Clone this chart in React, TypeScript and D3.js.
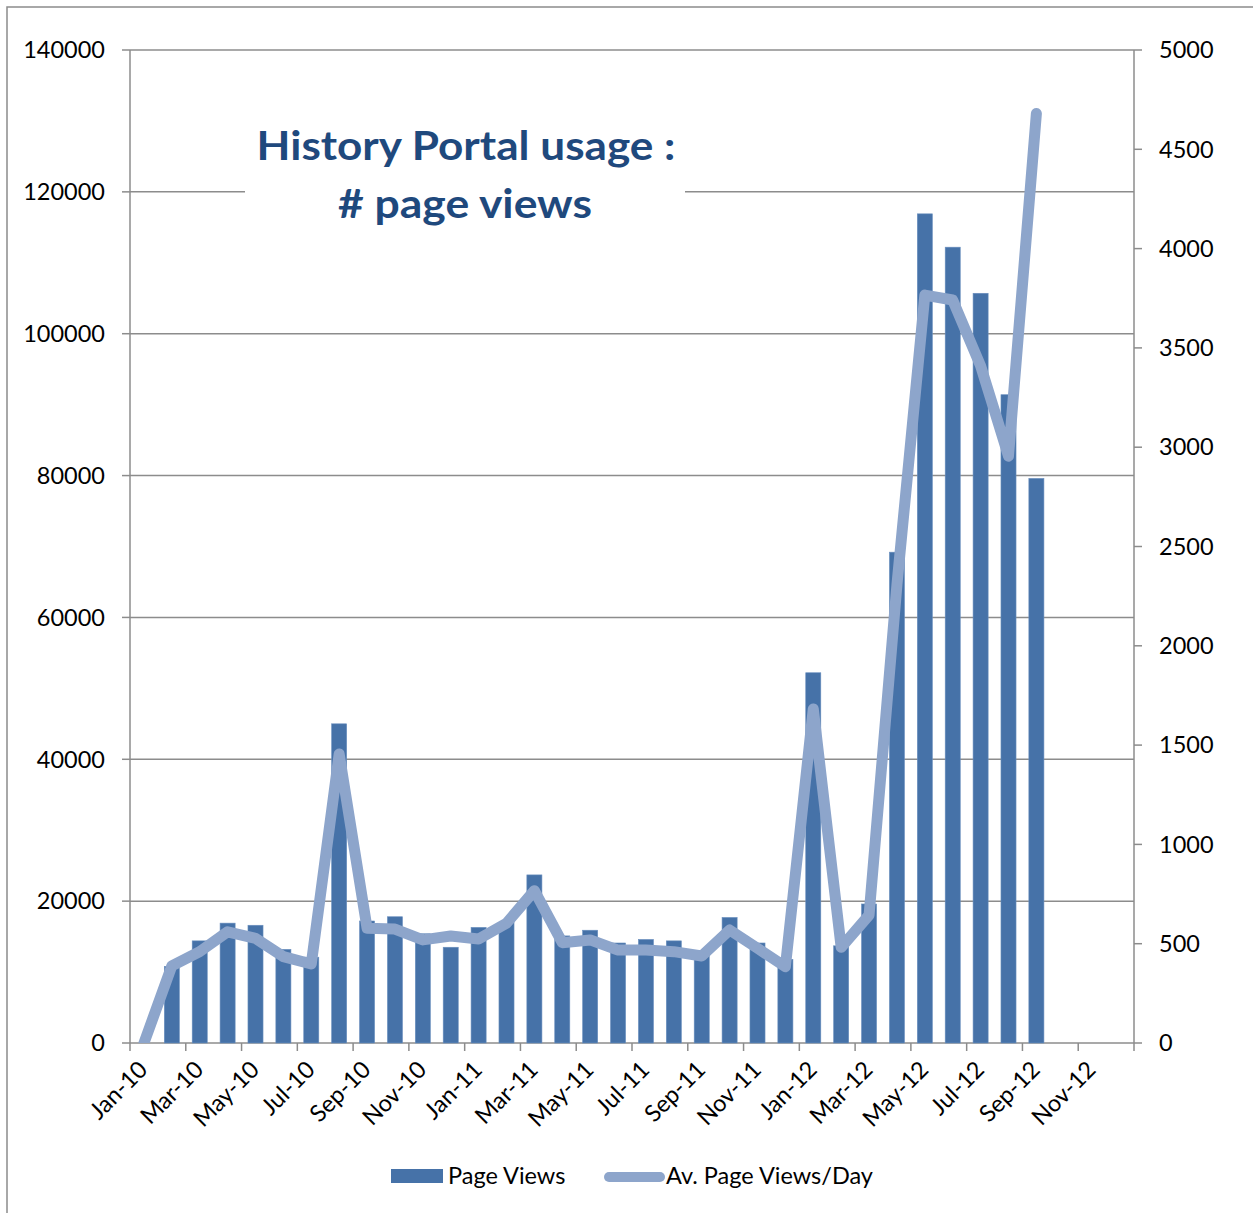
import React from 'react';
import * as d3 from 'd3';

const months = [
  'Jan-10','Feb-10','Mar-10','Apr-10','May-10','Jun-10','Jul-10','Aug-10','Sep-10','Oct-10','Nov-10','Dec-10',
  'Jan-11','Feb-11','Mar-11','Apr-11','May-11','Jun-11','Jul-11','Aug-11','Sep-11','Oct-11','Nov-11','Dec-11',
  'Jan-12','Feb-12','Mar-12','Apr-12','May-12','Jun-12','Jul-12','Aug-12','Sep-12','Oct-12','Nov-12','Dec-12',
];
const pageViews: (number | null)[] = [
  0, 10800, 14400, 16900, 16600, 13200, 12100, 45000, 17200, 17800, 15400, 13500,
  16300, 17000, 23700, 15100, 15900, 14100, 14600, 14400, 12800, 17700, 14100, 11800,
  52200, 13700, 19600, 69200, 116900, 112200, 105700, 91400, 79600, null, null, null,
];
const avgPerDay: (number | null)[] = [
  0, 388, 460, 560, 527, 435, 398, 1455, 578, 574, 519, 539,
  524, 603, 767, 505, 519, 468, 468, 460, 438, 569, 477, 384,
  1682, 482, 644, 2307, 3766, 3741, 3410, 2955, 4680, null, null, null,
];
const leftTicks = [0, 20000, 40000, 60000, 80000, 100000, 120000, 140000];
const rightTicks = [0, 500, 1000, 1500, 2000, 2500, 3000, 3500, 4000, 4500, 5000];
const titleLines = ['History Portal usage :', '# page views'];
const legendLabels = ['Page Views', 'Av. Page Views/Day'];

const BAR = '#4672A8';
const LINE = '#8DA5CB';
const GRID = '#8c8c8c';
const FONT = 'Lato, "Open Sans", sans-serif';
const FS = 23.5;

export default function App() {
  const L = 130, R = 1134, T = 50, B = 1043;
  const x = d3.scaleBand<string>().domain(months).range([L, R]).paddingInner(0.46).paddingOuter(0.23);
  const yL = d3.scaleLinear().domain([0, 140000]).range([B, T]);
  const yR = d3.scaleLinear().domain([0, 5000]).range([B, T]);
  const step = x.step();
  const bandStart = (m: string) => (x(m) as number) - (step - x.bandwidth()) / 2;
  const cx = (m: string) => (x(m) as number) + x.bandwidth() / 2;

  const lineGen = d3.line<number | null>()
    .defined((d) => d !== null)
    .x((_, i) => cx(months[i]))
    .y((d) => yR(d as number));

  const labelMonths = months.filter((_, i) => i % 2 === 0);

  return (
    <svg width={1253} height={1213} style={{ position: 'absolute', left: 0, top: 0, background: '#fff' }}>
      <defs>
        <clipPath id="plot">
          <rect x={L} y={T - 20} width={R - L} height={B - T + 20} />
        </clipPath>
      </defs>
      <rect x={7} y={7} width={1300} height={1300} fill="#fff" stroke={GRID} strokeWidth={1.5} />

      {leftTicks.map((t) => (
        <line key={'g' + t} x1={L} x2={R} y1={yL(t)} y2={yL(t)} stroke={GRID} strokeWidth={1.5} />
      ))}
      <line x1={L} x2={L} y1={T} y2={B} stroke={GRID} strokeWidth={1.5} />
      <line x1={R} x2={R} y1={T} y2={B} stroke={GRID} strokeWidth={1.5} />
      {leftTicks.map((t) => (
        <g key={'l' + t}>
          <line x1={L - 8} x2={L} y1={yL(t)} y2={yL(t)} stroke={GRID} strokeWidth={1.5} />
          <text x={105} y={yL(t)} dy="0.35em" textAnchor="end" fontFamily={FONT} fontSize={FS} fill="#000">{t}</text>
        </g>
      ))}
      {rightTicks.map((t) => (
        <g key={'r' + t}>
          <line x1={R} x2={R + 8} y1={yR(t)} y2={yR(t)} stroke={GRID} strokeWidth={1.5} />
          <text x={1159} y={yR(t)} dy="0.35em" textAnchor="start" fontFamily={FONT} fontSize={FS} fill="#000">{t}</text>
        </g>
      ))}
      {labelMonths.map((m) => (
        <g key={'x' + m}>
          <line x1={bandStart(m)} x2={bandStart(m)} y1={B} y2={B + 8} stroke={GRID} strokeWidth={1.5} />
          <text transform={`translate(${bandStart(m) + 19},${B + 28}) rotate(-45)`} textAnchor="end"
            fontFamily={FONT} fontSize={FS} fill="#000">{m}</text>
        </g>
      ))}
      <line x1={R} x2={R} y1={B} y2={B + 8} stroke={GRID} strokeWidth={1.5} />

      {months.map((m, i) => pageViews[i] !== null && (pageViews[i] as number) > 0 ? (
        <rect key={'b' + m} x={x(m)} y={yL(pageViews[i] as number)} width={x.bandwidth()}
          height={B - yL(pageViews[i] as number)} fill={BAR} stroke="#6a8fbe" strokeWidth={0.6} />
      ) : null)}

      <rect x={245} y={108} width={440} height={122} fill="#fff" />
      <text x={466} y={160} textAnchor="middle" fontFamily={FONT} fontWeight={700} fontSize={40}
        fill="#1F497D" textLength={419} lengthAdjust="spacingAndGlyphs">{titleLines[0]}</text>
      <text x={465} y={218} textAnchor="middle" fontFamily={FONT} fontWeight={700} fontSize={40}
        fill="#1F497D" textLength={254} lengthAdjust="spacingAndGlyphs">{titleLines[1]}</text>

      <g clipPath="url(#plot)">
        <path d={lineGen(avgPerDay) || ''} fill="none" stroke={LINE} strokeWidth={11}
          strokeLinejoin="round" strokeLinecap="round" />
      </g>

      <rect x={391} y={1169} width={52} height={14} fill={BAR} />
      <text x={448} y={1176} dy="0.35em" fontFamily={FONT} fontSize={FS} fill="#000">{legendLabels[0]}</text>
      <line x1={609} x2={660} y1={1177} y2={1177} stroke={LINE} strokeWidth={10} strokeLinecap="round" />
      <text x={666} y={1176} dy="0.35em" fontFamily={FONT} fontSize={FS} fill="#000">{legendLabels[1]}</text>
    </svg>
  );
}
